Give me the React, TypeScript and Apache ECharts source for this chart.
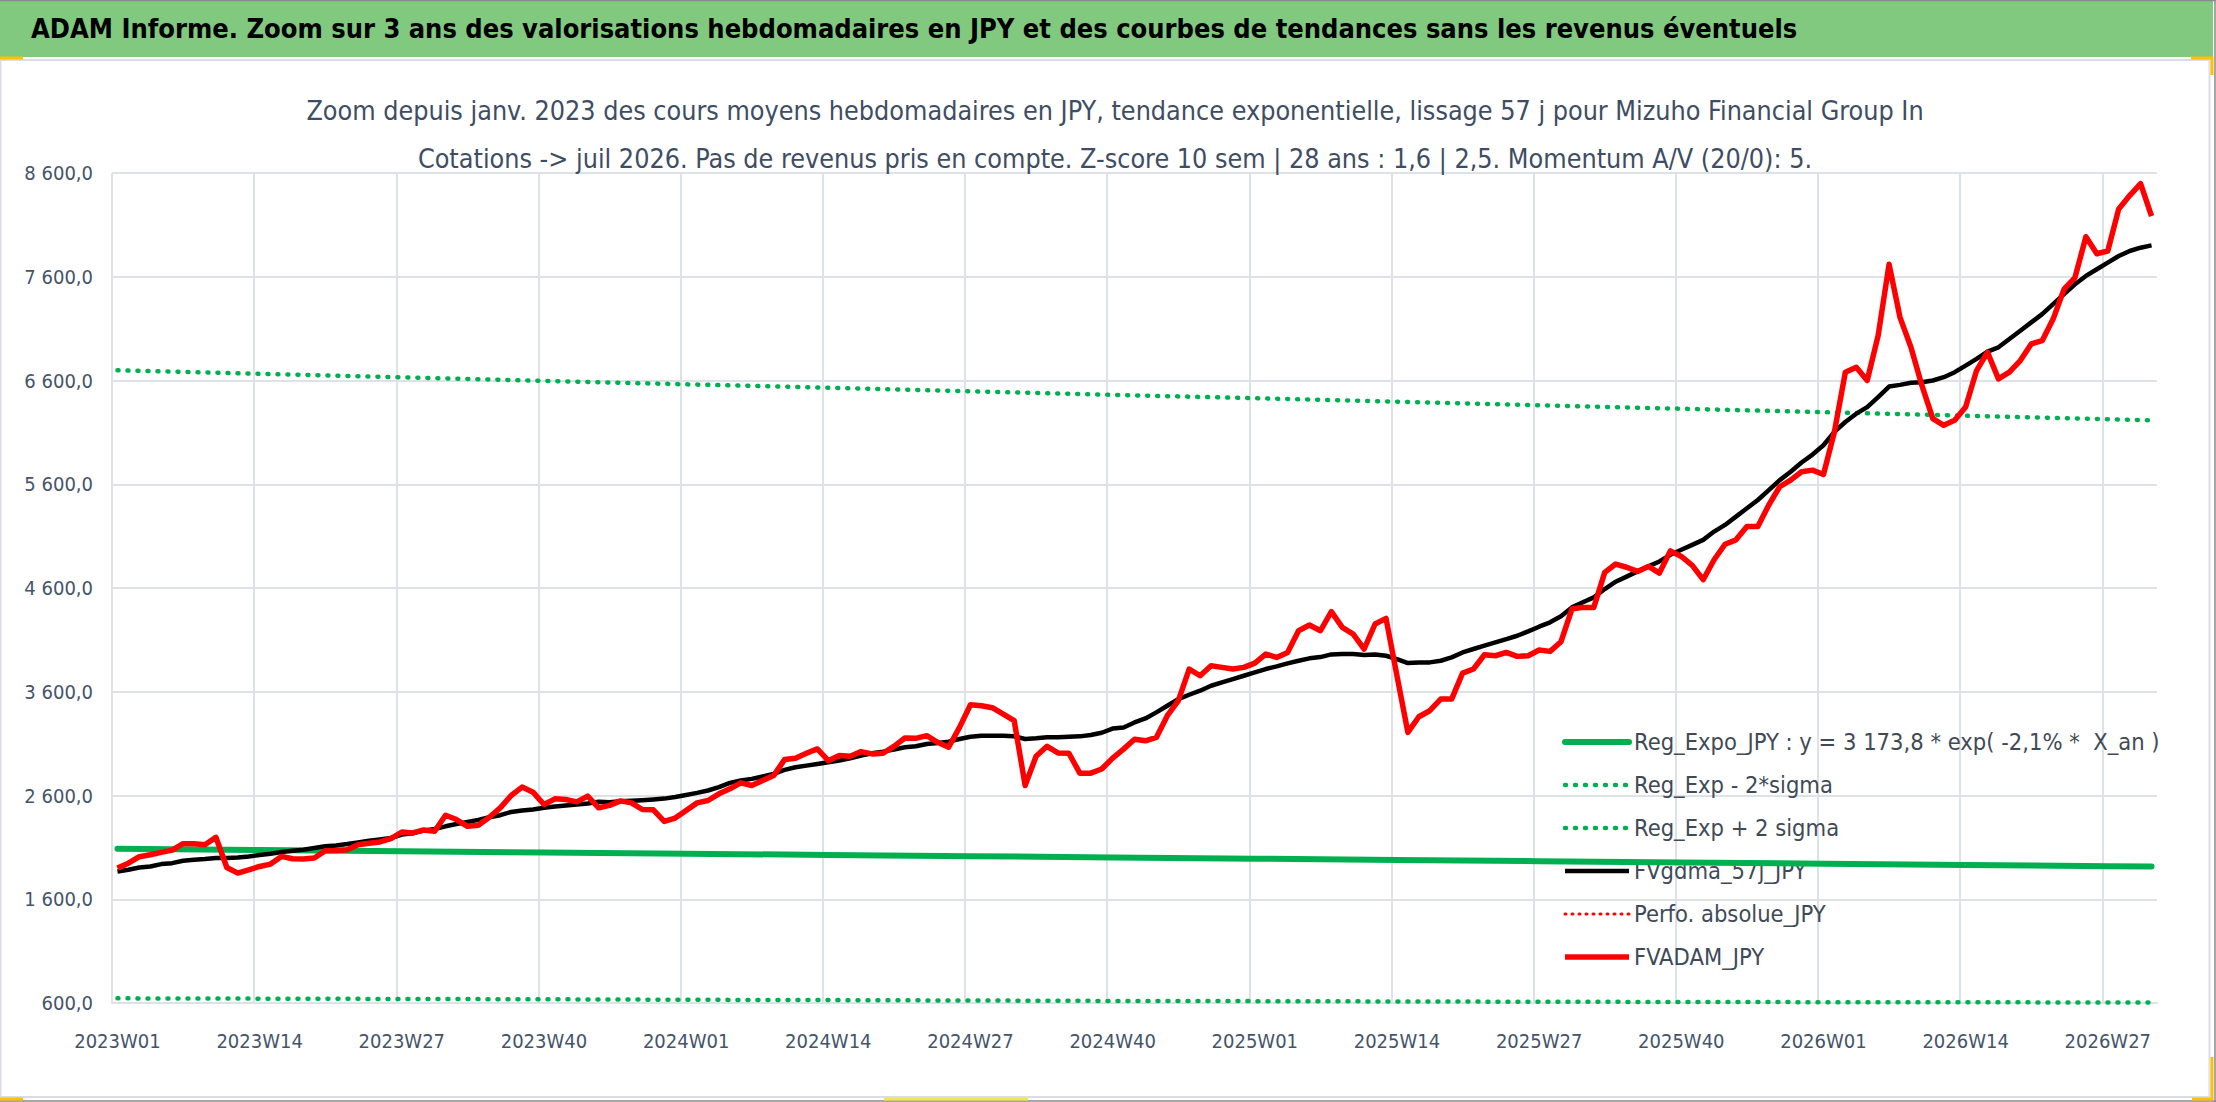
import React, { useEffect, useRef } from "react";
import * as echarts from "echarts";

const FONT = "'Liberation Sans Narrow', 'Arial Narrow', 'DejaVu Sans Condensed', 'Liberation Sans', sans-serif";

const mainTitle =
  "ADAM Informe. Zoom sur 3 ans des valorisations hebdomadaires en JPY et des courbes de tendances sans les revenus éventuels";
const subTitleLines = [
  "Zoom depuis janv. 2023 des cours moyens hebdomadaires en JPY, tendance exponentielle, lissage 57 j pour Mizuho Financial Group In",
  "Cotations -> juil 2026. Pas de revenus pris en compte. Z-score 10 sem | 28 ans : 1,6 | 2,5. Momentum A/V (20/0): 5.",
];

const seriesNames = [
  "Reg_Expo_JPY : y = 3 173,8 * exp( -2,1% *  X_an )",
  "Reg_Exp - 2*sigma",
  "Reg_Exp + 2 sigma",
  "FVgdma_57j_JPY",
  "Perfo. absolue_JPY",
  "FVADAM_JPY",
];

// ISO week categories 2023W01 .. 2026W31
const yearWeeks: [number, number][] = [
  [2023, 52],
  [2024, 52],
  [2025, 52],
  [2026, 31],
];
const weeks: string[] = [];
for (const [y, n] of yearWeeks) {
  for (let w = 1; w <= n; w++) weeks.push(`${y}W${String(w).padStart(2, "0")}`);
}

const fvadamJpy = [
  1900, 1948, 2010, 2029, 2052, 2074, 2135, 2135, 2126, 2197,
  1906, 1852, 1884, 1916, 1939, 2013, 1990, 1987, 1997, 2068,
  2071, 2077, 2126, 2139, 2152, 2184, 2248, 2239, 2268, 2255,
  2410, 2368, 2303, 2313, 2390, 2481, 2600, 2681, 2632, 2513,
  2568, 2561, 2539, 2594, 2481, 2505, 2548, 2529, 2465, 2462,
  2350, 2382, 2456, 2529, 2552, 2616, 2664, 2722, 2696, 2744,
  2792, 2946, 2959, 3007, 3049, 2936, 2985, 2978, 3023, 3001,
  3007, 3074, 3154, 3151, 3177, 3113, 3065, 3257, 3475, 3465,
  3446, 3385, 3321, 2696, 2978, 3074, 3010, 3007, 2815, 2815,
  2855, 2960, 3047, 3143, 3127, 3160, 3369, 3513, 3819, 3754,
  3851, 3835, 3819, 3835, 3876, 3963, 3931, 3979, 4188, 4243,
  4188, 4372, 4220, 4156, 4012, 4253, 4307, 3754, 3208, 3359,
  3417, 3529, 3529, 3780, 3819, 3957, 3947, 3979, 3941, 3947,
  4002, 3989, 4082, 4397, 4413, 4413, 4751, 4831, 4800, 4760,
  4808, 4744, 4958, 4904, 4818, 4680, 4872, 5022, 5064, 5192,
  5192, 5400, 5576, 5640, 5720, 5736, 5694, 6104, 6680, 6728,
  6600, 7032, 7720, 7208, 6920, 6552, 6232, 6168, 6216, 6344,
  6696, 6872, 6616, 6680, 6792, 6952, 6984, 7192, 7480, 7592,
  7986, 7822, 7848, 8254, 8382, 8498, 8184,
];

const fvgdma57j = [
  1868, 1884, 1906, 1916, 1939, 1948, 1971, 1981, 1987, 1997,
  1997, 2003, 2013, 2026, 2039, 2055, 2068, 2077, 2094, 2110,
  2119, 2132, 2148, 2165, 2177, 2190, 2223, 2236, 2261, 2277,
  2303, 2326, 2345, 2365, 2390, 2410, 2442, 2455, 2465, 2481,
  2494, 2503, 2513, 2523, 2539, 2535, 2545, 2550, 2555, 2562,
  2570, 2585, 2605, 2625, 2648, 2680, 2722, 2744, 2760, 2783,
  2808, 2847, 2872, 2888, 2904, 2920, 2936, 2959, 2985, 3007,
  3023, 3042, 3065, 3074, 3097, 3106, 3119, 3145, 3167, 3177,
  3177, 3177, 3170, 3145, 3151, 3161, 3161, 3167, 3170, 3183,
  3205, 3245, 3256, 3304, 3343, 3401, 3465, 3529, 3571, 3610,
  3658, 3690, 3722, 3754, 3786, 3819, 3844, 3873, 3899, 3922,
  3934, 3960, 3963, 3963, 3954, 3960, 3947, 3915, 3876, 3883,
  3883, 3899, 3931, 3979, 4012, 4044, 4076, 4108, 4140, 4182,
  4227, 4269, 4327, 4413, 4462, 4510, 4590, 4661, 4710, 4760,
  4808, 4856, 4920, 4968, 5016, 5064, 5144, 5208, 5288, 5368,
  5448, 5544, 5640, 5720, 5810, 5886, 5976, 6104, 6200, 6280,
  6344, 6440, 6542, 6558, 6578, 6584, 6600, 6632, 6680, 6744,
  6808, 6878, 6920, 7000, 7080, 7160, 7240, 7336, 7432, 7528,
  7608, 7672, 7736, 7800, 7848, 7880, 7902,
];

// Smooth regression curves, read at the quarterly grid weeks
const regExpoJpy: [string, number][] = [
  ["2023W01", 2087], ["2023W14", 2075], ["2023W27", 2063], ["2023W40", 2051],
  ["2024W01", 2039], ["2024W14", 2027], ["2024W27", 2015], ["2024W40", 2003],
  ["2025W01", 1991], ["2025W14", 1979], ["2025W27", 1967], ["2025W40", 1955],
  ["2026W01", 1943], ["2026W14", 1931], ["2026W27", 1919], ["2026W31", 1915],
];
const regExpMinus2Sigma: [string, number][] = [
  ["2023W01", 645], ["2023W14", 642], ["2023W27", 639], ["2023W40", 636],
  ["2024W01", 631], ["2024W14", 628], ["2024W27", 624], ["2024W40", 620],
  ["2025W01", 618], ["2025W14", 615], ["2025W27", 612], ["2025W40", 610],
  ["2026W01", 608], ["2026W14", 607], ["2026W27", 605], ["2026W31", 605],
];
const regExpPlus2Sigma: [string, number][] = [
  ["2023W01", 6698], ["2023W14", 6664], ["2023W27", 6631], ["2023W40", 6597],
  ["2024W01", 6563], ["2024W14", 6530], ["2024W27", 6496], ["2024W40", 6462],
  ["2025W01", 6429], ["2025W14", 6395], ["2025W27", 6361], ["2025W40", 6328],
  ["2026W01", 6294], ["2026W14", 6260], ["2026W27", 6226], ["2026W31", 6216],
];
const perfoAbsolueJpy: number[] = [];

const formatFr = (v: number) => {
  const [i, d] = v.toFixed(1).split(".");
  return i.replace(/\B(?=(\d{3})+(?!\d))/g, " ") + "," + d;
};

const GREEN = "#00B050";
const RED = "#FF0000";
const GRID = "#DDE1E8";
const LABEL = "#44546A";

export default function App() {
  const ref = useRef<HTMLDivElement>(null);
  useEffect(() => {
    if (!ref.current) return;
    const chart = echarts.init(ref.current, undefined, { renderer: "svg" });
    const dotted = { type: [1, 9] as number[], cap: "round" as const, width: 4.5 };
    chart.setOption({
      animation: false,
      backgroundColor: "#ffffff",
      textStyle: { fontFamily: FONT },
      graphic: [
        { type: "rect", z: -10, shape: { x: 0, y: 0, width: 2216, height: 1102 }, style: { fill: "#ffffff" } },
        { type: "rect", z: -9, shape: { x: 0, y: 1, width: 2213, height: 56 }, style: { fill: "#80C97F" } },
        { type: "line", z: -8, shape: { x1: 0, y1: 0.5, x2: 2216, y2: 0.5 }, style: { stroke: "#8a8a8a", lineWidth: 1.5 } },
        { type: "line", z: -8, shape: { x1: 2215, y1: 0, x2: 2215, y2: 1102 }, style: { stroke: "#8a8a8a", lineWidth: 1.5 } },
        { type: "line", z: -8, shape: { x1: 0, y1: 1101, x2: 2216, y2: 1101 }, style: { stroke: "#8a8a8a", lineWidth: 1.5 } },
        { type: "rect", z: -8, shape: { x: 0.5, y: 60, width: 2209, height: 1037 }, style: { fill: "none", stroke: "#DADDE3", lineWidth: 2 } },
        { type: "polyline", z: 10, shape: { points: [[2191, 58], [2212, 58], [2212, 75]] }, style: { stroke: "#FFC000", lineWidth: 3, fill: "none" } },
        { type: "polyline", z: 10, shape: { points: [[2212, 1057], [2212, 1099], [2192, 1099]] }, style: { stroke: "#FFC000", lineWidth: 3, fill: "none" } },
        { type: "line", z: 10, shape: { x1: 0, y1: 1099, x2: 23, y2: 1099 }, style: { stroke: "#FFC000", lineWidth: 3 } },
        { type: "line", z: 10, shape: { x1: 0, y1: 58, x2: 23, y2: 58 }, style: { stroke: "#FFC000", lineWidth: 3 } },
        { type: "line", z: 10, shape: { x1: 884, y1: 1099, x2: 1028, y2: 1099 }, style: { stroke: "#F2E84B", lineWidth: 3 } },
      ],
      title: [
        {
          text: mainTitle,
          left: 31,
          top: 8,
          padding: 0,
          textStyle: { fontFamily: FONT, fontSize: 27, fontWeight: "bold", color: "#000000", lineHeight: 40 },
        },
        {
          text: subTitleLines.join("\n"),
          left: 1115,
          top: 86,
          padding: 0,
          textAlign: "center",
          textStyle: { fontFamily: FONT, fontSize: 26.7, fontWeight: "normal", color: "#3E4D63", lineHeight: 48 },
        },
      ],
      legend: {
        orient: "vertical",
        left: 1562,
        top: 729,
        padding: 0,
        z: 1,
        itemWidth: 64,
        itemHeight: 20,
        itemGap: 17,
        selectedMode: false,
        data: seriesNames,
        itemStyle: { opacity: 0 },
        lineStyle: { width: "inherit" },
        textStyle: { fontFamily: FONT, fontSize: 23.5, lineHeight: 26, color: "#404A57" },
      },
      grid: { left: 112, right: 59, top: 173, bottom: 99, containLabel: false },
      xAxis: {
        type: "category",
        data: weeks,
        boundaryGap: true,
        axisLine: { show: true, lineStyle: { color: GRID, width: 2 } },
        axisTick: { show: false, interval: 12 },
        splitLine: { show: true, interval: 12, showMaxLine: false, lineStyle: { color: GRID, width: 2 } },
        axisLabel: { interval: 12, fontFamily: FONT, fontSize: 20, color: LABEL, margin: 28 },
      },
      yAxis: {
        type: "value",
        min: 600,
        max: 8600,
        interval: 1000,
        axisLine: { show: false },
        axisTick: { show: false },
        splitLine: { show: true, lineStyle: { color: GRID, width: 2 } },
        axisLabel: { fontFamily: FONT, fontSize: 20, color: LABEL, margin: 19, formatter: formatFr },
      },
      series: [
        {
          name: seriesNames[0],
          type: "line",
          data: regExpoJpy,
          symbol: "none",
          lineStyle: { color: GREEN, width: 6, cap: "round" },
          itemStyle: { color: GREEN },
          z: 2,
        },
        {
          name: seriesNames[1],
          type: "line",
          data: regExpMinus2Sigma,
          symbol: "none",
          lineStyle: { color: GREEN, ...dotted },
          itemStyle: { color: GREEN },
          z: 2,
        },
        {
          name: seriesNames[2],
          type: "line",
          data: regExpPlus2Sigma,
          symbol: "none",
          lineStyle: { color: GREEN, ...dotted },
          itemStyle: { color: GREEN },
          z: 2,
        },
        {
          name: seriesNames[3],
          type: "line",
          data: fvgdma57j,
          symbol: "none",
          lineStyle: { color: "#000000", width: 4.5, join: "round" },
          itemStyle: { color: "#000000" },
          z: 3,
        },
        {
          name: seriesNames[4],
          type: "line",
          data: perfoAbsolueJpy,
          symbol: "none",
          lineStyle: { color: RED, type: [1, 6], cap: "round", width: 3 },
          itemStyle: { color: RED },
          z: 3,
        },
        {
          name: seriesNames[5],
          type: "line",
          data: fvadamJpy,
          symbol: "none",
          lineStyle: { color: RED, width: 5.5, join: "round" },
          itemStyle: { color: RED },
          z: 4,
        },
      ],
    });
    return () => chart.dispose();
  }, []);
  return (
    <div
      ref={ref}
      style={{ position: "absolute", left: 0, top: 0, width: 2216, height: 1102 }}
    />
  );
}
